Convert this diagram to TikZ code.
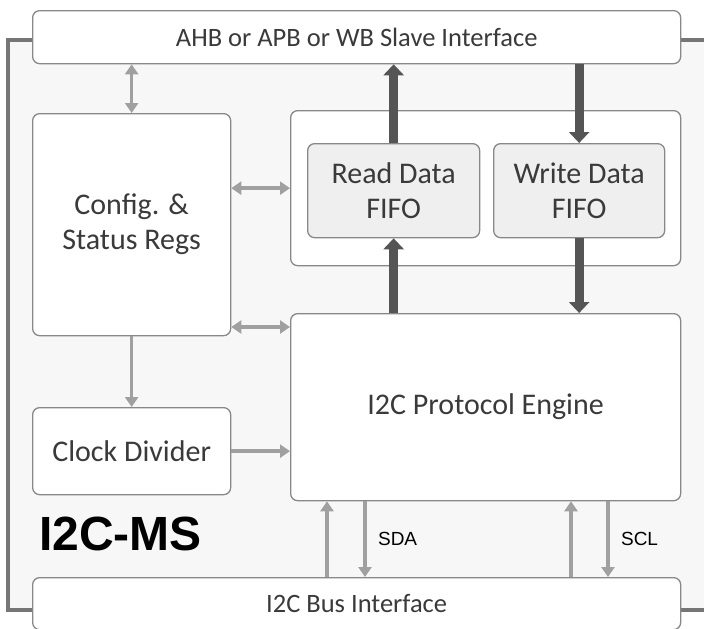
\documentclass[tikz,border=0pt]{standalone}
\usepackage{fontspec}
\setmainfont{Carlito}
\newfontfamily\arialfont{Liberation Sans}
\usetikzlibrary{arrows.meta}
\definecolor{framegray}{HTML}{767676}
\definecolor{boxline}{HTML}{888888}
\definecolor{lightarrow}{HTML}{A0A0A0}
\definecolor{darkarrow}{HTML}{555555}
\definecolor{fifofill}{HTML}{EFEFEF}
\definecolor{txtgray}{HTML}{3A3A3A}
\begin{document}
\begin{tikzpicture}[x=1pt, y=-1pt,
    blk/.style={draw=boxline, line width=1.3pt, rounded corners=7pt, fill=white,
                anchor=north west, inner sep=0pt, align=center, text=txtgray,
                font=\fontsize{30}{35}\selectfont},
    busbox/.style={blk, font=\fontsize{26.5}{30}\selectfont},
    fifobox/.style={blk, fill=fifofill},
    thin arrow/.style={draw=lightarrow, line width=3.5pt, -{Triangle[width=13pt,length=10pt]}},
    both arrow/.style={thin arrow, {Triangle[width=13pt,length=10pt]}-{Triangle[width=13pt,length=10pt]}},
    fat arrow/.style={draw=darkarrow, line width=9pt, -{Triangle[width=20pt,length=11pt]}},
    sig/.style={font=\arialfont\fontsize{19}{22}\selectfont, text=black, anchor=west}]
    \useasboundingbox (0,0) rectangle (704,629);
    \fill[black!3] (8,40) rectangle (704,610);
    \draw[framegray, line width=3.2pt] (730,40) -- (8,40) -- (8,610) -- (730,610);

    \node[busbox, minimum width=648pt, minimum height=53pt] (slave) at (32,10) {AHB or APB or WB Slave Interface};
    \node[blk, minimum width=198pt, minimum height=222pt] (regs) at (32,113) {Config. \&\\Status Regs};
    \node[blk, minimum width=390pt, minimum height=155pt] (fifos) at (290,110) {};
    \node[fifobox, minimum width=172pt, minimum height=94pt] (rdfifo) at (307,143) {Read Data\\FIFO};
    \node[fifobox, minimum width=171pt, minimum height=94pt] (wrfifo) at (493,143) {Write Data\\FIFO};
    \node[blk, minimum width=390pt, minimum height=187pt] (engine) at (290,313) {I2C Protocol Engine};
    \node[blk, minimum width=198pt, minimum height=87pt] (clkdiv) at (32,407) {Clock Divider};
    \node[busbox, minimum width=648pt, minimum height=52pt] (bus) at (32,577) {I2C Bus Interface};
    \node[font=\arialfont\bfseries\fontsize{48}{50}\selectfont, anchor=west, inner sep=0pt] (title) at (39,534) {I2C-MS};

    \draw[both arrow] (regs.north) -- (regs.north |- slave.south);
    \draw[both arrow] (regs.east |- fifos.west) -- (fifos.west);
    \draw[both arrow] (regs.east |- 0,327) -- (engine.west |- 0,327);
    \draw[thin arrow] (regs.south) -- (clkdiv.north);
    \draw[thin arrow] (clkdiv.east) -- (clkdiv.east -| engine.west);

    \draw[fat arrow] (rdfifo.north) -- (rdfifo.north |- slave.south);
    \draw[fat arrow] (wrfifo.north |- slave.south) -- (wrfifo.north);
    \draw[fat arrow] (rdfifo.south |- engine.north) -- (rdfifo.south);
    \draw[fat arrow] (wrfifo.south) -- (wrfifo.south |- engine.north);

    \coordinate (sdaup) at (327,0);
    \coordinate (sdadn) at (365,0);
    \coordinate (sclup) at (571,0);
    \coordinate (scldn) at (608,0);
    \draw[thin arrow] (sdaup |- bus.north) -- (sdaup |- engine.south);
    \draw[thin arrow] (sdadn |- engine.south) -- (sdadn |- bus.north) node[sig, pos=0.5, xshift=8pt] (sda) {SDA};
    \draw[thin arrow] (sclup |- bus.north) -- (sclup |- engine.south);
    \draw[thin arrow] (scldn |- engine.south) -- (scldn |- bus.north) node[sig, pos=0.5, xshift=8pt] (scl) {SCL};
\end{tikzpicture}
\end{document}
